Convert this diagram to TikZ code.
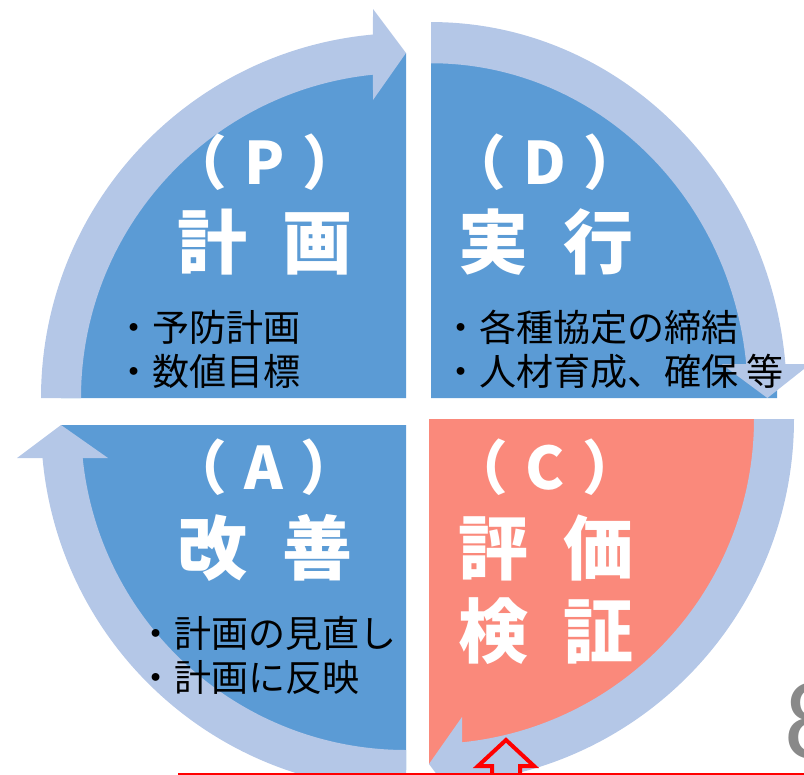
\documentclass[tikz,border=0pt]{standalone}
\usepackage{fontspec}
\newfontfamily\jpfont{Noto Sans CJK JP}
\newfontfamily\numfont{Carlito}
\usetikzlibrary{calc}
\definecolor{pdcablue}{HTML}{5B9BD5}
\definecolor{ringblue}{HTML}{B4C7E7}
\definecolor{checkpink}{HTML}{FA897B}
\definecolor{pagegray}{HTML}{898989}
\definecolor{alertred}{HTML}{FF0000}
% quarter pie in "P" orientation (from left to top), centre at origin
\newcommand\quadpie[3]{\fill[#1,#2] (0,0) -- (180:#3) arc[start angle=180,end angle=270,radius=#3] -- cycle;}
% curved cycle arrow in "P" orientation
\newcommand\ringarrow[1]{\fill[ringblue,#1] (180:365) arc[start angle=180,end angle=264.81,radius=365] -- (-33,-389) -- (0,-345) -- (-33,-298) -- (264.17:325) arc[start angle=264.17,end angle=180,radius=325] -- cycle;}
\newcommand\phasetext[1]{（\hspace{0.3em}#1\hspace{0.3em}）}
\tikzset{
  phaselabel/.style={text=white,inner sep=0,font=\jpfont\bfseries\fontsize{44}{44}\selectfont},
  bigtitle/.style={text=white,inner sep=0,font=\jpfont\bfseries\fontsize{52.5}{52.5}\selectfont},
  bullettext/.style={text=black,inner sep=0,anchor=west,font=\jpfont\fontsize{27.8}{27.8}\selectfont},
  redmark/.style={draw=alertred,line width=3pt,miter limit=10},
}
\begin{document}
\begin{tikzpicture}[x=0.75pt,y=0.75pt,yscale=-1]
\useasboundingbox (0,0) rectangle (804,775);
\coordinate (cP) at (406,398);
\coordinate (cD) at (431,398);
\coordinate (cC) at (429,419);
\coordinate (cA) at (406,425);
% quadrants
\quadpie{pdcablue}{shift={(cP)}}{345}
\quadpie{pdcablue}{shift={(cD)},xscale=0.975,yscale=1.03,rotate=90}{355}
\quadpie{checkpink}{shift={(cC)},rotate=180}{345}
\quadpie{pdcablue}{shift={(cA)},rotate=270}{345}
% cycle arrows
\ringarrow{shift={(cP)}}
\ringarrow{shift={(cD)},xscale=0.975,yscale=1.03,rotate=90}
\ringarrow{shift={(cC)},rotate=180}
\ringarrow{shift={(cA)},rotate=270}
% titles
\node[phaselabel] (labP) at (265,162) {\phasetext{P}};
\node[bigtitle] (titP) at (265,242) {計\hspace{0.5em}画};
\node[phaselabel] (labD) at (545,162) {\phasetext{D}};
\node[bigtitle] (titD) at (546,242) {実\hspace{0.5em}行};
\node[phaselabel] (labA) at (264,467) {\phasetext{A}};
\node[bigtitle] (titA) at (265,548) {改\hspace{0.5em}善};
\node[phaselabel] (labC) at (545,467) {\phasetext{C}};
\node[bigtitle] (titC1) at (546,548) {評\hspace{0.5em}価};
\node[bigtitle] (titC2) at (546,631) {検\hspace{0.5em}証};
% bullets
\node[bullettext] (bP1) at (115,327.5) {・予防計画};
\node[bullettext] (bP2) at (115,371) {・数値目標};
\node[bullettext] (bD1) at (442,327.5) {・各種協定の締結};
\node[bullettext] (bD2) at (442,371) {・人材育成、確保\hspace{0.2em}等};
\node[bullettext] (bA1) at (137,633) {・計画の見直し};
\node[bullettext] (bA2) at (137,678) {・計画に反映};
% page number
\node[text=pagegray,anchor=base west,inner sep=0,font=\numfont\fontsize{83}{83}\selectfont] (pagenum) at (784,758) {8};
% red marks
\coordinate (lineL) at (178,775);
\coordinate (lineR) at (804,775);
\draw[alertred,line width=2.4pt] (lineL) -- (lineR);
\coordinate (upTip) at (506,740);
\draw[redmark] (upTip) -- ++(-28,26) -- ++(14,0) -- ++(0,30) -- ++(28,0) -- ++(0,-30) -- ++(14,0) -- cycle;
\end{tikzpicture}
\end{document}
